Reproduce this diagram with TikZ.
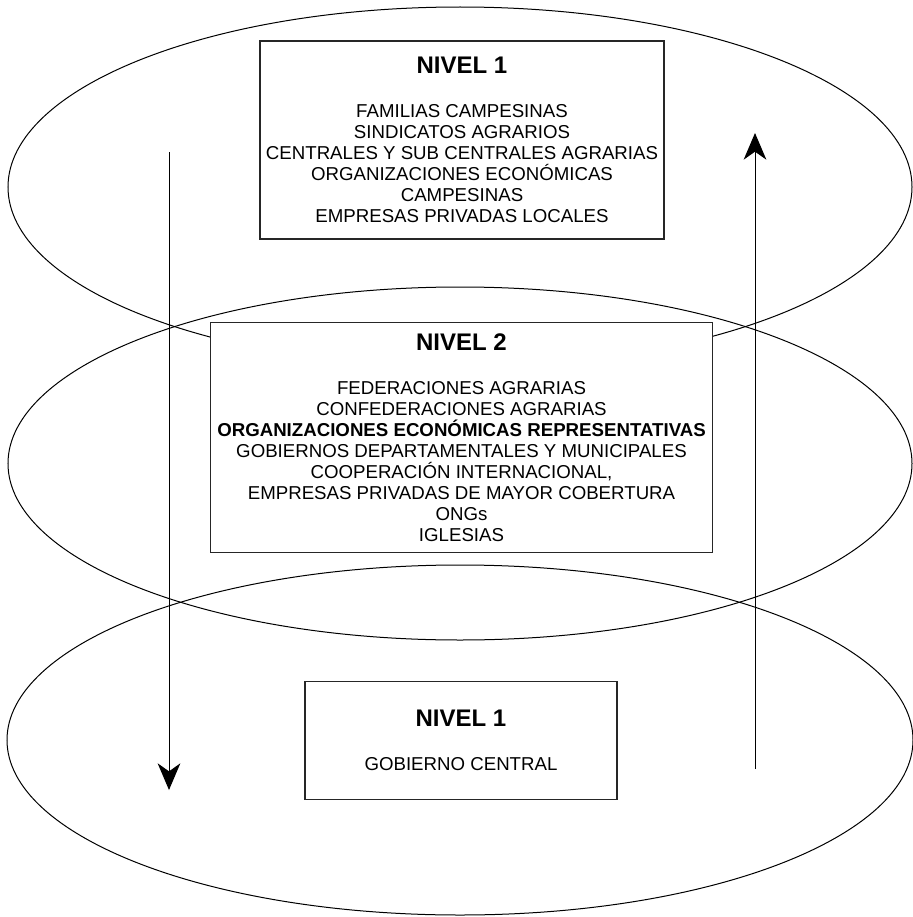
\documentclass[tikz,border=0pt]{standalone}
\usepackage{fontspec}
\setmainfont{Liberation Sans}
\usetikzlibrary{arrows.meta}
\newcommand{\nivtitulo}[1]{{\fontsize{18}{20}\selectfont\bfseries #1}}

\begin{document}
\begin{tikzpicture}[x=0.75pt,y=-0.75pt,
    capa/.style={line width=0.75pt},
    nivel/.style={draw=black!85, line width=0.8pt, fill=white, align=center, inner sep=0pt,
      font=\fontsize{14}{15.75}\selectfont},
    flujo/.style={line width=0.75pt, -{Stealth[length=20pt,width=17pt,inset=6pt]}}]
            \useasboundingbox (0,0) rectangle (913,917);
            % capas
            \draw[capa] (460,187) ellipse [x radius=452, y radius=180];
            \draw[capa] (460,463.5) ellipse [x radius=452, y radius=176.5];
            \draw[capa] (460,740) ellipse [x radius=453, y radius=175];
            % niveles
            \node[nivel, minimum width=303pt, minimum height=148.5pt](N1) at (462,140)
                {\nivtitulo{NIVEL 1}\\[17.5pt]
                 FAMILIAS CAMPESINAS\\
                 SINDICATOS AGRARIOS\\
                 CENTRALES Y SUB CENTRALES AGRARIAS\\
                 ORGANIZACIONES ECONÓMICAS\\
                 CAMPESINAS\\
                 EMPRESAS PRIVADAS LOCALES};
            \node[nivel, minimum width=377pt, minimum height=173pt](N2) at (461.5,437.5)
                {\nivtitulo{NIVEL 2}\\[17.5pt]
                 FEDERACIONES AGRARIAS\\
                 CONFEDERACIONES AGRARIAS\\
                 \textbf{ORGANIZACIONES ECONÓMICAS REPRESENTATIVAS}\\
                 GOBIERNOS DEPARTAMENTALES Y MUNICIPALES\\
                 COOPERACIÓN INTERNACIONAL,\\
                 EMPRESAS PRIVADAS DE MAYOR COBERTURA\\
                 ONGs\\
                 IGLESIAS};
            \node[nivel, minimum width=234pt, minimum height=88pt](N3) at (461,740.5)
                {\nivtitulo{NIVEL 1}\\[17.5pt]
                 GOBIERNO CENTRAL};
            % flujos
            \coordinate (bajaIni) at (169,152);
            \coordinate (bajaFin) at (169,790);
            \coordinate (subeIni) at (755,769);
            \coordinate (subeFin) at (755,133);
            \draw[flujo] (bajaIni) -- (bajaFin);
            \draw[flujo] (subeIni) -- (subeFin);
\end{tikzpicture}
\end{document}
